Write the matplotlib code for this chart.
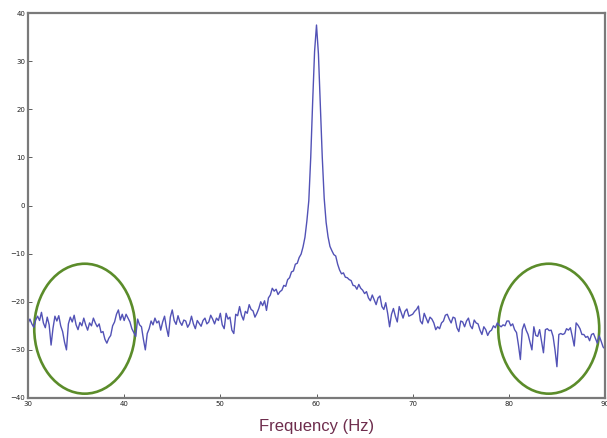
import numpy as np
import matplotlib
matplotlib.use('Agg')
import matplotlib.pyplot as plt
from matplotlib.patches import Ellipse

# power spectrum, 0.2 Hz bins from 30 Hz to 90 Hz (dB)
f_start = 30.0
f_step = 0.2

psd_30_40 = [-24.5, -23.6, -24.6, -25.3, -23.8, -23.0, -23.9, -22.2, -24.4, -25.4,
             -23.2, -24.8, -29.0, -25.5, -23.0, -24.0, -22.9, -25.0, -26.2, -28.4,
             -30.0, -24.6, -23.2, -24.2, -22.8, -24.8, -25.8, -24.3, -25.0, -23.4,
             -24.8, -25.9, -24.4, -25.0, -23.4, -24.4, -25.2, -24.6, -26.4, -26.2,
             -27.8, -28.6, -27.6, -27.0, -25.0, -24.2, -22.6, -21.7, -23.8, -22.6,
             -23.9]
psd_40_50 = [-22.6, -23.4, -24.2, -25.6, -26.4, -27.2, -23.6, -24.8, -25.2, -27.8,
             -30.0, -26.6, -25.6, -24.0, -24.8, -23.4, -24.4, -24.0, -25.9, -24.2,
             -23.0, -25.4, -27.2, -23.2, -21.7, -23.9, -24.7, -22.9, -24.2, -24.9,
             -23.8, -24.0, -25.3, -24.6, -23.0, -24.6, -25.6, -23.9, -24.5, -25.1,
             -23.9, -23.4, -24.6, -24.2, -22.8, -23.6, -24.6, -23.4, -23.9, -22.4]
psd_50_59 = [-24.8, -25.6, -22.4, -23.6, -23.2, -25.9, -26.6, -22.6, -22.9, -21.0,
             -22.8, -23.8, -22.0, -22.4, -20.6, -21.6, -21.9, -23.2, -22.4, -21.4,
             -20.0, -20.8, -19.8, -21.8, -19.2, -18.6, -17.2, -17.8, -17.4, -18.5,
             -17.9, -17.6, -16.6, -16.8, -15.4, -15.0, -13.8, -13.6, -12.2, -12.0,
             -10.8, -10.1, -8.6, -6.6]
psd_peak = [-3.2, 1.0, 10.0, 21.5, 32.0, 37.5, 31.5, 21.0, 10.0, 1.5,
            -3.5, -6.5, -8.5]
psd_61_70 = [-9.4, -10.2, -10.5, -12.2, -13.4, -14.2, -14.0, -14.9, -15.0, -15.4,
             -15.6, -16.6, -16.7, -17.4, -16.4, -17.2, -17.6, -18.3, -17.9, -19.2,
             -19.8, -18.6, -19.6, -20.6, -19.2, -18.8, -21.0, -21.6, -20.2, -22.4,
             -25.2, -22.6, -21.4, -23.0, -24.2, -21.0, -22.2, -23.4, -22.0, -21.5,
             -23.0, -22.8, -22.6]
psd_70_80 = [-22.0, -21.6, -20.9, -24.0, -24.6, -22.4, -23.4, -24.4, -23.2, -23.6,
             -24.4, -25.8, -25.2, -25.6, -24.4, -24.0, -22.8, -22.6, -23.6, -24.4,
             -23.2, -23.4, -25.4, -26.2, -24.0, -24.2, -25.2, -24.0, -23.4, -25.0,
             -25.6, -23.8, -24.4, -24.6, -25.9, -26.8, -25.2, -25.8, -27.0, -26.2,
             -25.9, -25.0, -25.4, -24.4, -24.9, -25.2, -24.8, -25.0, -24.0, -24.0]
psd_80_90 = [-25.0, -24.6, -25.8, -26.4, -29.0, -32.0, -25.8, -24.6, -25.9, -26.8,
             -28.4, -30.0, -25.2, -27.0, -27.2, -25.8, -28.2, -30.6, -25.8, -25.6,
             -26.0, -25.9, -27.2, -30.0, -33.5, -26.8, -26.6, -26.8, -26.6, -25.6,
             -25.9, -25.4, -27.2, -29.2, -24.4, -24.9, -25.6, -26.8, -26.8, -27.4,
             -27.2, -28.1, -26.8, -26.6, -27.6, -28.6, -27.1, -28.2, -29.4, -29.8]

psd = np.array(psd_30_40 + psd_40_50 + psd_50_59 + psd_peak +
               psd_61_70 + psd_70_80 + psd_80_90)
freq = f_start + f_step * np.arange(len(psd))

xticks = [30, 40, 50, 60, 70, 80, 90]
yticks = [-40, -30, -20, -10, 0, 10, 20, 30, 40]

fig = plt.figure(figsize=(6.07, 4.38), dpi=100)
ax = fig.add_axes([28/607, 40/438, 577/607, 385/438])

ax.plot(freq, psd, color='#5252b6', lw=1.0)

# highlighted noise regions
for cx in (35.9, 84.15):
    ax.add_patch(Ellipse((cx, -25.6), 10.5, 27, fill=False,
                         edgecolor='#5b8c2a', lw=1.9, clip_on=False))

ax.set_xlim(30, 90)
ax.set_ylim(-40, 40)
ax.set_xticks(xticks)
ax.set_yticks(yticks)
ax.tick_params(direction='in', length=3, width=0.6, labelsize=5,
               pad=2, colors='#444444', labelcolor='#222222')
for s in ax.spines.values():
    s.set_color('#7a7a7a')
    s.set_linewidth(1.6)

ax.set_xlabel('Frequency (Hz)', fontsize=12, color='#6e2d4d', labelpad=9,
              family=['Liberation Sans', 'DejaVu Sans'])

fig.savefig('out.png', dpi=100)
